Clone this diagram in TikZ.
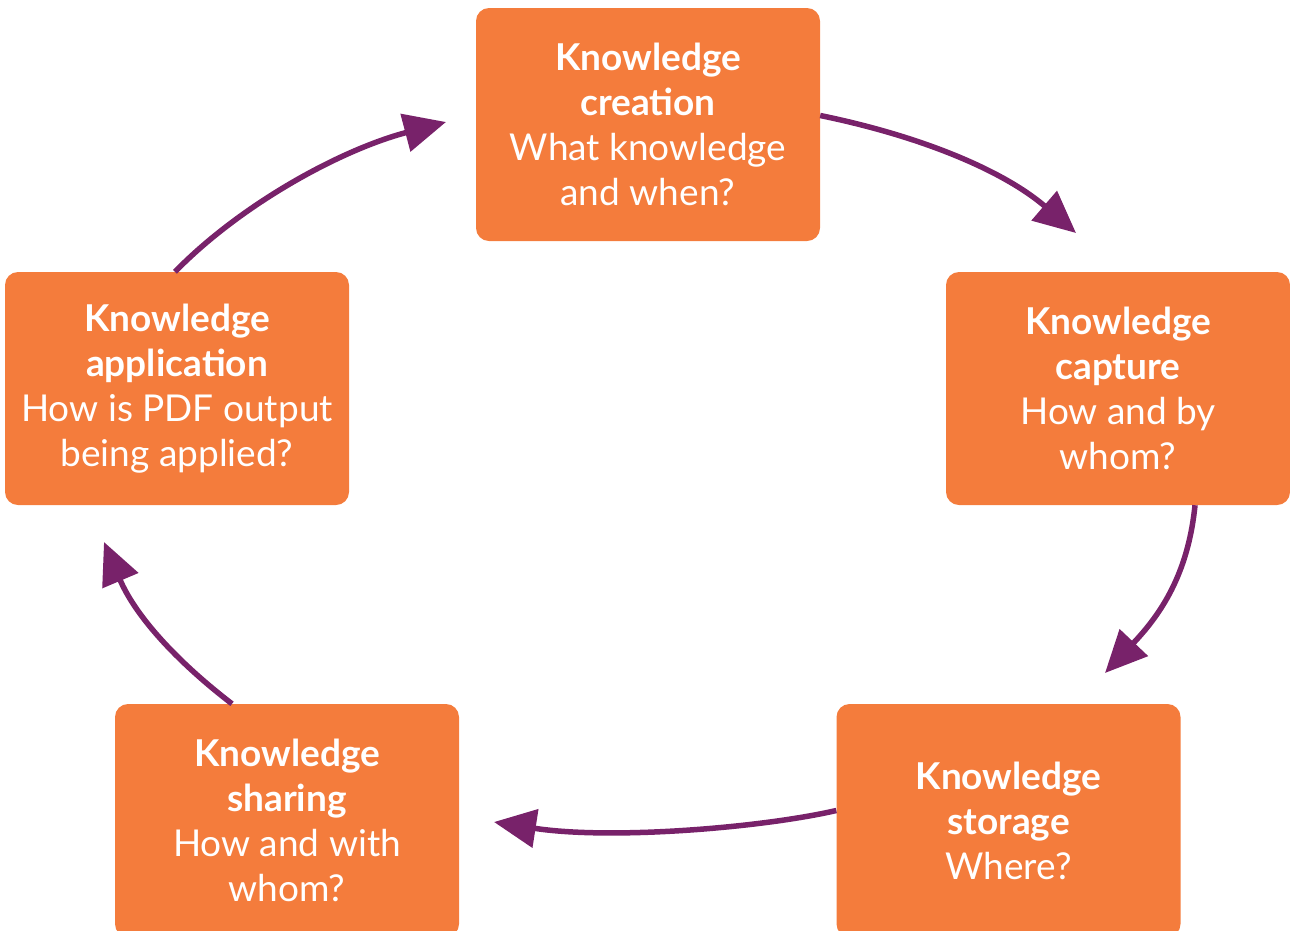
\documentclass[tikz,border=0pt]{standalone}
\usepackage{fontspec}
\setmainfont{Lato}
\usetikzlibrary{arrows.meta}
\definecolor{boxorange}{HTML}{F47C3C}
\definecolor{cyclepurple}{HTML}{78226A}
\tikzset{
  stagebox/.style={fill=boxorange, draw=none, rounded corners=13pt,
    minimum width=344pt, minimum height=233pt, text=white, align=center,
    font=\fontsize{37}{45}\selectfont, inner sep=0pt},
  cyclearrow/.style={draw=cyclepurple, line width=5.5pt,
    -{Triangle[length=42pt,width=38pt]}, color=cyclepurple}
}
\begin{document}
\begin{tikzpicture}[x=1pt,y=-1pt]
\useasboundingbox (0,0) rectangle (1290,930);

% arrow tips floating just short of the next stage
\coordinate (tipA) at (1076,233);
\coordinate (tipB) at (1105,673);
\coordinate (tipC) at (494,822);
\coordinate (tipD) at (104,542);
\coordinate (tipE) at (446,122);

% the five stages of the knowledge cycle
\node[stagebox] (creation) at (648,124.5) {\textbf{Knowledge}\\\textbf{creation}\\What knowledge\\and when?};
\node[stagebox] (capture) at (1118,388.5) {\textbf{Knowledge}\\\textbf{capture}\\How and by\\whom?};
\node[stagebox] (storage) at (1008.5,820.5) {\textbf{Knowledge}\\\textbf{storage}\\Where?};
\node[stagebox] (sharing) at (287,820.5) {\textbf{Knowledge}\\\textbf{sharing}\\How and with\\whom?};
\node[stagebox] (application) at (177,388.5) {\textbf{Knowledge}\\\textbf{application}\\How is PDF output\\being applied?};

% connectors between consecutive stages
\draw[cyclearrow] ([yshift=9pt]creation.east) .. controls (925,137) and (1005,172) .. (tipA);
\draw[cyclearrow] ([xshift=77pt]capture.south) .. controls (1188,575) and (1160,615) .. (tipB);
\draw[cyclearrow] ([yshift=10pt]storage.west) .. controls (760,828) and (610,840) .. (tipC);
\draw[cyclearrow] ([xshift=-55pt]sharing.north) .. controls (175,660) and (135,615) .. (tipD);
\draw[cyclearrow] ([xshift=-2pt]application.north) .. controls (240,205) and (340,150) .. (tipE);
\end{tikzpicture}
\end{document}
